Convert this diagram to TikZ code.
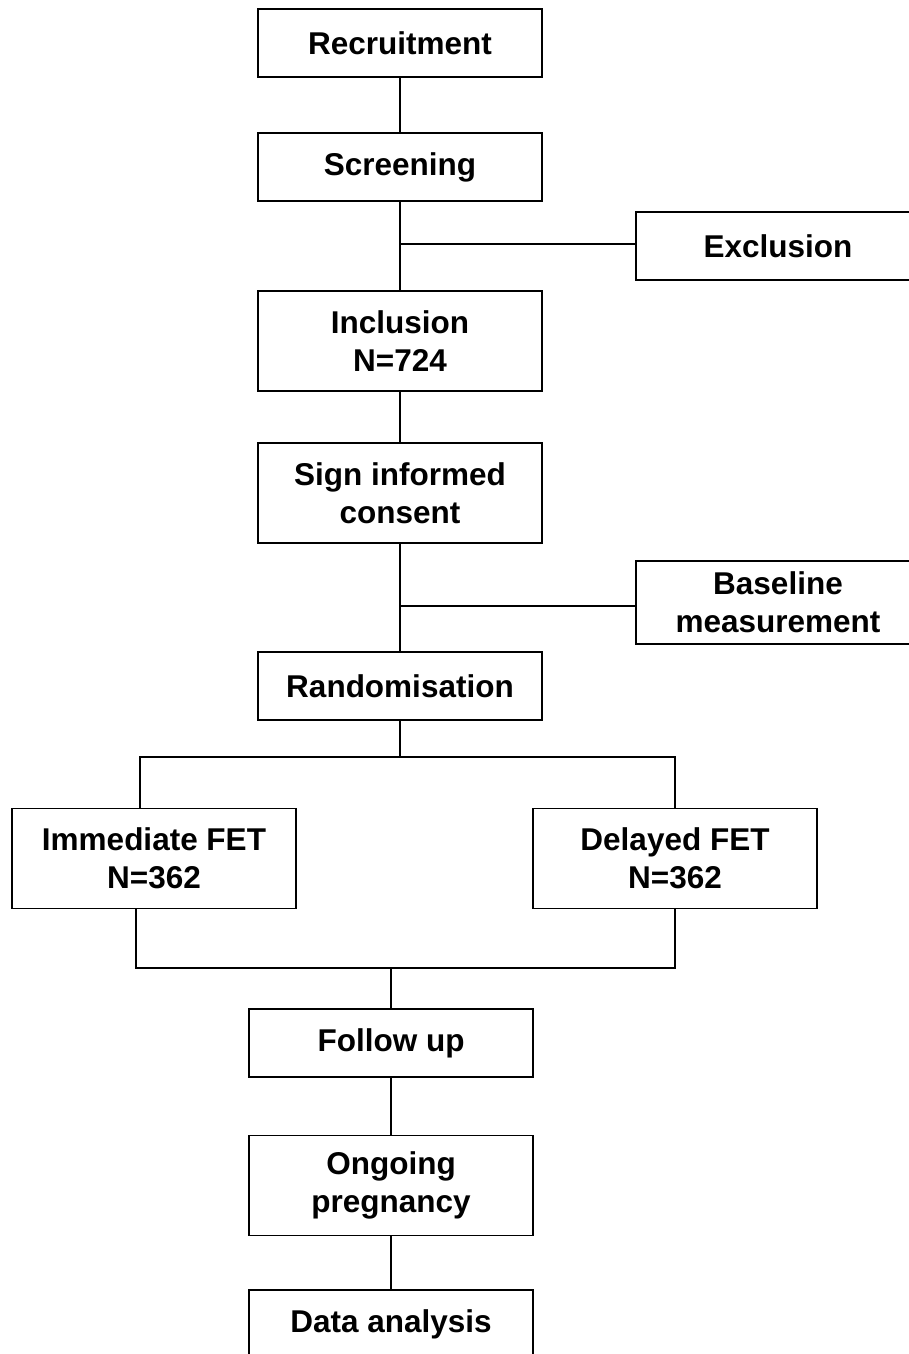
\documentclass[tikz,border=0pt]{standalone}
\usepackage{fontspec}
\setmainfont{Liberation Sans}
\begin{document}
\begin{tikzpicture}[x=1pt,y=-1pt,
  stepbox/.style={draw=black, line width=1.6pt, fill=white,
    minimum width=284pt, minimum height=68pt, inner sep=0pt,
    align=center, font=\fontsize{31.5}{38}\selectfont\bfseries},
  tallbox/.style={stepbox, minimum height=100pt},
  link/.style={draw=black, line width=1.6pt}]
\useasboundingbox (0,0) rectangle (909,1354);
\clip (0,0) rectangle (909,1354);

% main column
\node[stepbox] (rec) at (400,43) {Recruitment};
\node[stepbox] (scr) at (400,167) {Screening};
\node[stepbox] (exc) at (778,246) {Exclusion};
\node[tallbox] (inc) at (400,341) {Inclusion\\N=724};
\node[tallbox] (sic) at (400,493) {Sign informed\\consent};
\node[stepbox, minimum height=83pt] (base) at (778,602.5) {Baseline\\measurement};
\node[stepbox] (rnd) at (400,686) {Randomisation};

% two arms
\node[tallbox] (imm) at (154,858.5) {Immediate FET\\N=362};
\node[tallbox] (del) at (675,858.5) {Delayed FET\\N=362};

% after the arms
\node[stepbox] (fol) at (391,1043) {Follow up};
\node[tallbox] (ong) at (391,1185.5) {Ongoing\\pregnancy};
\node[stepbox] (dat) at (391,1324) {Data analysis};

% junction points
\coordinate (j1) at (400,244);
\coordinate (j2) at (400,606);
\coordinate (split) at (400,757);
\coordinate (ia) at (140,757);
\coordinate (ib) at (136,968);
\coordinate (merge) at (391,968);

% connectors
\draw[link] (rec) -- (scr);
\draw[link] (scr) -- (inc);
\draw[link] (j1) -- (j1 -| exc.west);
\draw[link] (inc) -- (sic);
\draw[link] (sic) -- (rnd);
\draw[link] (j2) -- (j2 -| base.west);
\draw[link] (rnd.south) -- (split);
\draw[link] (ia |- imm.north) -- (ia) -- (ia -| del.north) -- (del.north);
\draw[link] (ib |- imm.south) -- (ib) -- (ib -| del.south) -- (del.south);
\draw[link] (merge) -- (fol.north);
\draw[link] (fol) -- (ong);
\draw[link] (ong) -- (dat);
\end{tikzpicture}
\end{document}
